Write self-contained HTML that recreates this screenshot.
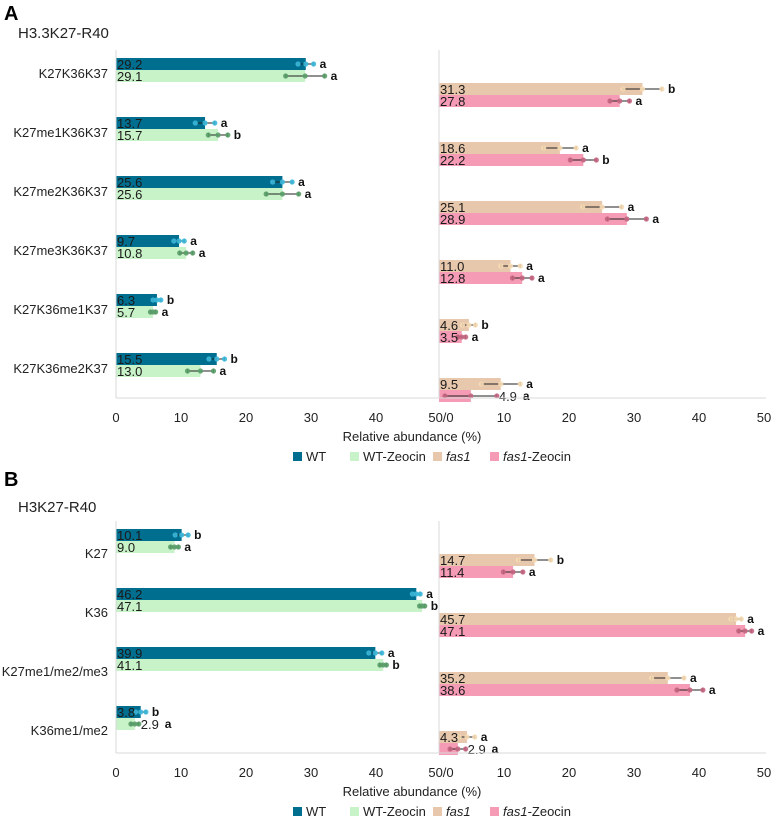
<!DOCTYPE html>
<html><head><meta charset="utf-8"><style>
body{margin:0;background:#fff}
svg{display:block;font-family:"Liberation Sans",sans-serif}
</style></head><body>
<svg id="c" width="774" height="824" viewBox="0 0 774 824"></svg>
<script>
const catsA=["K27K36K37","K27me1K36K37","K27me2K36K37","K27me3K36K37","K27K36me1K37","K27K36me2K37"];
const wtA=[29.2,13.7,25.6,9.7,6.3,15.5];
const zeoA=[29.1,15.7,25.6,10.8,5.7,13.0];
const fasA=[31.3,18.6,25.1,11.0,4.6,9.5];
const fzA=[27.8,22.2,28.9,12.8,3.5,4.9];
const wtErrA=[1.2,1.5,1.5,0.8,0.6,1.2];
const zeoErrA=[3,1.5,2.5,1,0.4,2];
const fasErrA=[3,2.5,3,1.5,1,3];
const fzErrA=[1.5,2,3,1.5,0.6,4];
const wtLetA=["a","a","a","a","b","b"];
const zeoLetA=["a","b","a","a","a","a"];
const fasLetA=["b","a","a","a","b","a"];
const fzLetA=["a","b","a","a","a","a"];
const catsB=["K27","K36","K27me1/me2/me3","K36me1/me2"];
const wtB=[10.1,46.2,39.9,3.8];
const zeoB=[9.0,47.1,41.1,2.9];
const fasB=[14.7,45.7,35.2,4.3];
const fzB=[11.4,47.1,38.6,2.9];
const wtErrB=[1,0.6,1,0.8];
const zeoErrB=[0.6,0.4,0.5,0.6];
const fasErrB=[2.5,0.8,2.5,1.2];
const fzErrB=[1.5,1,2,1.2];
const wtLetB=["b","a","a","b"];
const zeoLetB=["a","b","b","a"];
const fasLetB=["b","a","a","a"];
const fzLetB=["a","a","a","a"];
const ticks=["0","10","20","30","40","50/0","10","20","30","40","50"];

const svg=document.getElementById('c');
const NS="http://www.w3.org/2000/svg";
function mk(tag,at,txt){const e=document.createElementNS(NS,tag);for(const k in at)e.setAttribute(k,at[k]);if(txt!==undefined)e.textContent=txt;svg.appendChild(e);return e;}
const L0=116,R0=439,S=6.5;
const xl=v=>L0+v*S, xr=v=>R0+v*S;
const COL={wt:"#006e8f",zeo:"#c8f2c8",fas:"#e8c8ad",fz:"#f59bb6"};
const DOT={wt:"#3cb9dc",zeo:"#5a9f69",fas:"#f6dbb4",fz:"#c56581"};

function bar(x,y,v,err,let_,key,outside,name){
  const X=key=="wt"||key=="zeo"?xl:xr;
  const r=mk('rect',{x:X(0),y:y,width:X(v)-X(0),height:12,fill:COL[key]});
  
  
  const yc=y+6;
  const e1=X(v-err),e2=X(v+err);
  const l=mk('line',{x1:e1,x2:e2,y1:yc,y2:yc,stroke:"#222","stroke-width":1});
  
  
  mk('line',{x1:e1,x2:e1,y1:yc-2,y2:yc+2,stroke:"#222","stroke-width":1});
  mk('line',{x1:e2,x2:e2,y1:yc-2,y2:yc+2,stroke:"#222","stroke-width":1});
  [e1,X(v),e2].forEach(cx=>{const d=mk('circle',{cx:cx,cy:yc,r:2.6,fill:DOT[key],opacity:0.9});
    });
  let lx;
  if(outside){const t=mk('text',{x:e2+2,y:yc+5,"font-size":13,fill:"#222"},v.toFixed(1));
    lx=e2+26;}
  else{const t=mk('text',{x:X(0)+1,y:yc+5,"font-size":13,fill:"#1a1a1a"},v.toFixed(1));
    lx=e2+6;}
  const lt=mk('text',{x:lx,y:yc+4,"font-size":12,"font-weight":"bold",fill:"#111"},let_);
  
}

function panel(o){
  const t=mk('text',{x:o.lx,y:o.ly,"font-size":20,"font-weight":"bold"},o.letter);
  
  const tt=mk('text',{x:18,y:o.ty,"font-size":15,fill:"#222"},o.title);
  
  o.cats.forEach((c,i)=>{
    const y=o.top+i*59;
    const ct=mk('text',{x:108,y:y+o.co,"font-size":13,"text-anchor":"end",fill:"#222"},c);
    
    bar(0,y,o.wt[i],o.we[i],o.wl[i],"wt",false,"wt");
    bar(0,y+12,o.zeo[i],o.ze[i],o.zl[i],"zeo",o.zo[i],"wt-zeocin");
    bar(0,y+25,o.fas[i],o.fe[i],o.fl[i],"fas",false,"fas1");
    bar(0,y+37,o.fz[i],o.fze[i],o.fzl[i],"fz",o.fzo[i],"fas1-zeocin");
  });
  const ax=o.axis;
  mk('line',{x1:L0,x2:L0,y1:o.top-8,y2:ax,stroke:"#d9d9d9"});
  mk('line',{x1:R0,x2:R0,y1:o.top-8,y2:ax,stroke:"#d9d9d9"});
  const a=mk('line',{x1:L0,x2:766,y1:ax,y2:ax,stroke:"#d9d9d9"});
  
  ticks.forEach((s,i)=>{const x=i<=5?xl(i*10):xr((i-5)*10);
    const tk=mk('text',{x:i==5?441:x,y:ax+24,"font-size":13,"text-anchor":"middle",fill:"#222"},s);
    });
  const xt=mk('text',{x:412,y:ax+43,"font-size":13,"text-anchor":"middle",fill:"#222"},"Relative abundance (%)");
  
  const ly=ax+63;
  [["WT","wt",293],["WT-Zeocin","zeo",350],["fas1","fas",433],["fas1-Zeocin","fz",490]].forEach(([n,k,x])=>{
    const r=mk('rect',{x:x,y:ly-9,width:9,height:9,fill:COL[k]});
    
    const t=mk('text',{x:x+13,y:ly,"font-size":13,fill:"#222"});
    
    if(k=="fas"||k=="fz"){const s=document.createElementNS(NS,'tspan');s.setAttribute('font-style','italic');s.textContent="fas1";t.appendChild(s);
      if(k=="fz"){const s2=document.createElementNS(NS,'tspan');s2.textContent="-Zeocin";t.appendChild(s2);}}
    else t.textContent=n;
  });
}
panel({letter:"A",lx:4,ly:20,title:"H3.3K27-R40",ty:38,top:58,co:20,cats:catsA,axis:398,
  wt:wtA,zeo:zeoA,fas:fasA,fz:fzA,we:wtErrA,ze:zeoErrA,fe:fasErrA,fze:fzErrA,
  wl:wtLetA,zl:zeoLetA,fl:fasLetA,fzl:fzLetA,zo:[0,0,0,0,0,0],fzo:[0,0,0,0,0,1]});
panel({letter:"B",lx:4,ly:486,title:"H3K27-R40",ty:512,top:529,co:29,cats:catsB,axis:753,
  wt:wtB,zeo:zeoB,fas:fasB,fz:fzB,we:wtErrB,ze:zeoErrB,fe:fasErrB,fze:fzErrB,
  wl:wtLetB,zl:zeoLetB,fl:fasLetB,fzl:fzLetB,zo:[0,0,0,1],fzo:[0,0,0,1]});
</script>
</body></html>
